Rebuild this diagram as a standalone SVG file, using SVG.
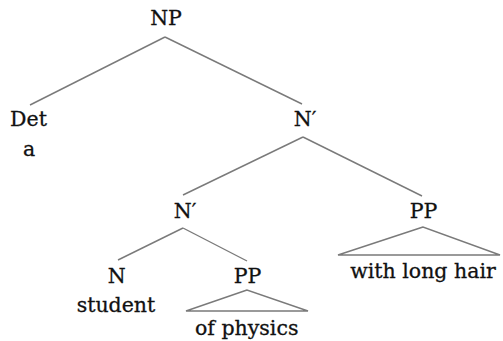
<svg xmlns="http://www.w3.org/2000/svg" width="503" height="341" viewBox="0 0 503 341">
<style>
text{font-family:"DejaVu Serif","Liberation Serif",serif;font-size:20.5px;fill:#111111;stroke:#111111;stroke-width:0.3;text-anchor:middle}
.e{stroke:#7a7a7a;stroke-width:1.4;fill:none;stroke-linejoin:miter}
</style>
<rect width="503" height="341" fill="#ffffff"/>
<g id="connectors">
<line class="e" x1="165" y1="37" x2="30" y2="105"/>
<line class="e" x1="165" y1="37" x2="302" y2="104"/>
<line class="e" x1="303" y1="137" x2="183" y2="195"/>
<line class="e" x1="303" y1="137" x2="422" y2="196"/>
<line class="e" x1="183" y1="228" x2="118" y2="260"/>
<line class="e" x1="183" y1="228" x2="247" y2="261"/>
<polygon class="e" points="423,227 338,255 500,255"/>
<polygon class="e" points="247,290 186,311 308,311"/>
</g>
<g id="np"><text x="166" y="25">NP</text></g>
<g id="det"><text x="28.5" y="126">Det</text><text x="29" y="156">a</text></g>
<g id="nbar1"><text x="305" y="126">N′</text></g>
<g id="nbar2"><text x="185" y="218">N′</text></g>
<g id="pp1"><text x="423.5" y="218">PP</text><text x="423" y="278">with long hair</text></g>
<g id="n"><text x="116.7" y="283">N</text><text x="116" y="312">student</text></g>
<g id="pp2"><text x="247.5" y="283">PP</text><text x="246.7" y="335">of physics</text></g>
</svg>
